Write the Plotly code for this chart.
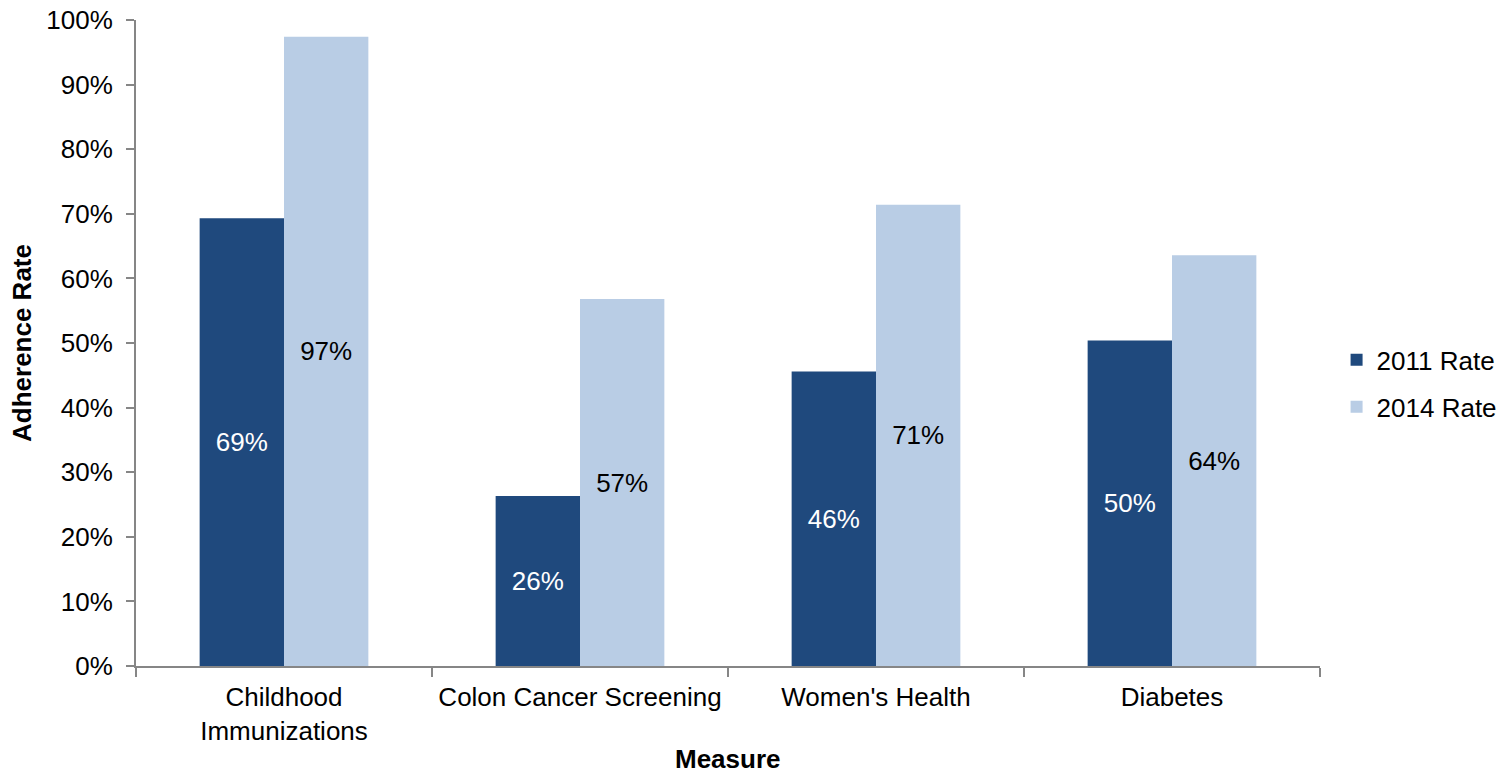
import plotly.graph_objects as go

categories = ["Childhood<br>Immunizations", "Colon Cancer Screening", "Women's Health", "Diabetes"]
rate_2011 = [69.3, 26.3, 45.6, 50.4]
rate_2014 = [97.4, 56.8, 71.4, 63.6]
labels_2011 = ["69%", "26%", "46%", "50%"]
labels_2014 = ["97%", "57%", "71%", "64%"]
y_ticks = list(range(0, 101, 10))

FONT = "Liberation Sans, Arial, sans-serif"
AXIS_COLOR = "#868686"
FS = 26

fig = go.Figure()
fig.add_trace(go.Bar(
    x=categories, y=rate_2011, name="2011 Rate",
    marker=dict(color="#1F497D", line=dict(width=0)),
    text=labels_2011, textposition="inside", insidetextanchor="middle",
    textfont=dict(color="white", size=FS, family=FONT),
    legend="legend", showlegend=True,
))
fig.add_trace(go.Bar(
    x=categories, y=rate_2014, name="2014 Rate",
    marker=dict(color="#B9CDE5", line=dict(width=0)),
    text=labels_2014, textposition="inside", insidetextanchor="middle",
    textfont=dict(color="black", size=FS, family=FONT),
    legend="legend2", showlegend=True,
))

legend_common = dict(
    xanchor="left", yanchor="middle", x=1.014,
    font=dict(size=FS, family=FONT, color="black"),
    bgcolor="rgba(0,0,0,0)", itemclick=False, visible=True,
)

fig.update_layout(
    width=1498, height=777,
    margin=dict(l=136, r=178, t=20, b=111, autoexpand=False),
    paper_bgcolor="white", plot_bgcolor="white",
    barmode="group", bargap=0.43, bargroupgap=0,
    showlegend=True,
    font=dict(family=FONT, size=FS, color="black"),
    uniformtext=dict(mode="show", minsize=FS),
    legend=dict(y=0.474, **legend_common),
    legend2=dict(y=0.401, **legend_common),
    xaxis=dict(
        automargin=False,
        showline=True, linecolor=AXIS_COLOR, linewidth=2,
        ticks="outside", tickson="boundaries", ticklen=9, tickcolor=AXIS_COLOR, tickwidth=2,
        ticklabelstandoff=7,
        tickfont=dict(size=FS, family=FONT, color="black"),
        showgrid=False,
    ),
    yaxis=dict(
        automargin=False,
        range=[0, 100], tickvals=y_ticks, ticktext=[f"{v}%" for v in y_ticks],
        showline=True, linecolor=AXIS_COLOR, linewidth=2,
        ticks="outside", ticklen=8, tickcolor=AXIS_COLOR, tickwidth=2,
        ticklabelstandoff=8,
        tickfont=dict(size=FS, family=FONT, color="black"),
        title=dict(text="<b>Adherence Rate</b>", font=dict(size=FS, family=FONT), standoff=7),
        showgrid=False, zeroline=False,
    ),
    annotations=[dict(
        text="<b>Measure</b>", xref="paper", yref="paper", x=0.5, y=-0.1687,
        xanchor="center", yanchor="bottom", showarrow=False, borderpad=0,
        font=dict(size=FS, family=FONT, color="black"),
    )],
)

fig.write_html("out.html")
